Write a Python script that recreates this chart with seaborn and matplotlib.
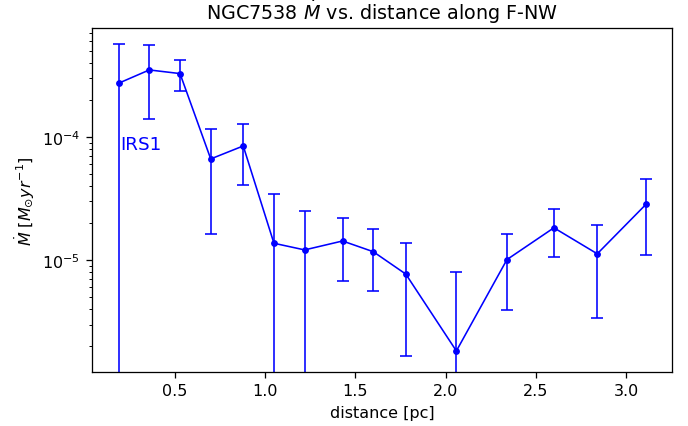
import numpy as np
import pandas as pd
import matplotlib
matplotlib.use("Agg")
import matplotlib.pyplot as plt
import seaborn as sns

# distance along the F-NW filament [pc]
distance = [0.19, 0.36, 0.53, 0.70, 0.88, 1.05, 1.22, 1.43, 1.60, 1.78, 2.06, 2.34, 2.60, 2.84, 3.11]
# mass accretion rate [Msun/yr]
mdot = [2.73e-4, 3.50e-4, 3.27e-4, 6.63e-5, 8.45e-5, 1.37e-5, 1.21e-5, 1.43e-5,
        1.17e-5, 7.7e-6, 1.83e-6, 1.01e-5, 1.83e-5, 1.125e-5, 2.84e-5]
mdot_err = [2.97e-4, 2.10e-4, 0.93e-4, 5.0e-5, 4.4e-5, 2.09e-5, 1.28e-5, 7.5e-6,
            6.1e-6, 6.05e-6, 6.24e-6, 6.15e-6, 7.7e-6, 7.85e-6, 1.74e-5]

df = pd.DataFrame({"distance": distance, "mdot": mdot, "err": mdot_err})

fig, ax = plt.subplots(figsize=(5.983, 3.713), dpi=115)
fig.subplots_adjust(left=0.133, right=0.977, top=0.931, bottom=0.126)

sns.lineplot(data=df, x="distance", y="mdot", color="blue", marker="o",
             markersize=3.5, markeredgecolor="blue", linewidth=1, ax=ax)
ax.errorbar(df["distance"], df["mdot"], yerr=df["err"], fmt="none",
            ecolor="blue", elinewidth=1, capsize=4, capthick=1)

ax.set_yscale("log")
ax.set_ylim(1.23e-6, 7.6e-4)
ax.set_xlim(0.04, 3.255)

ax.text(0.2, 8e-5, "IRS1", color="blue", fontsize=11.5)

ax.set_title(r"NGC7538 $\dot{M}$ vs. distance along F-NW")
ax.set_xlabel("distance [pc]")
ax.set_ylabel(r"$\dot{M}$ [$M_{\odot} yr^{-1}$]")

plt.savefig("out.png", dpi=115)
